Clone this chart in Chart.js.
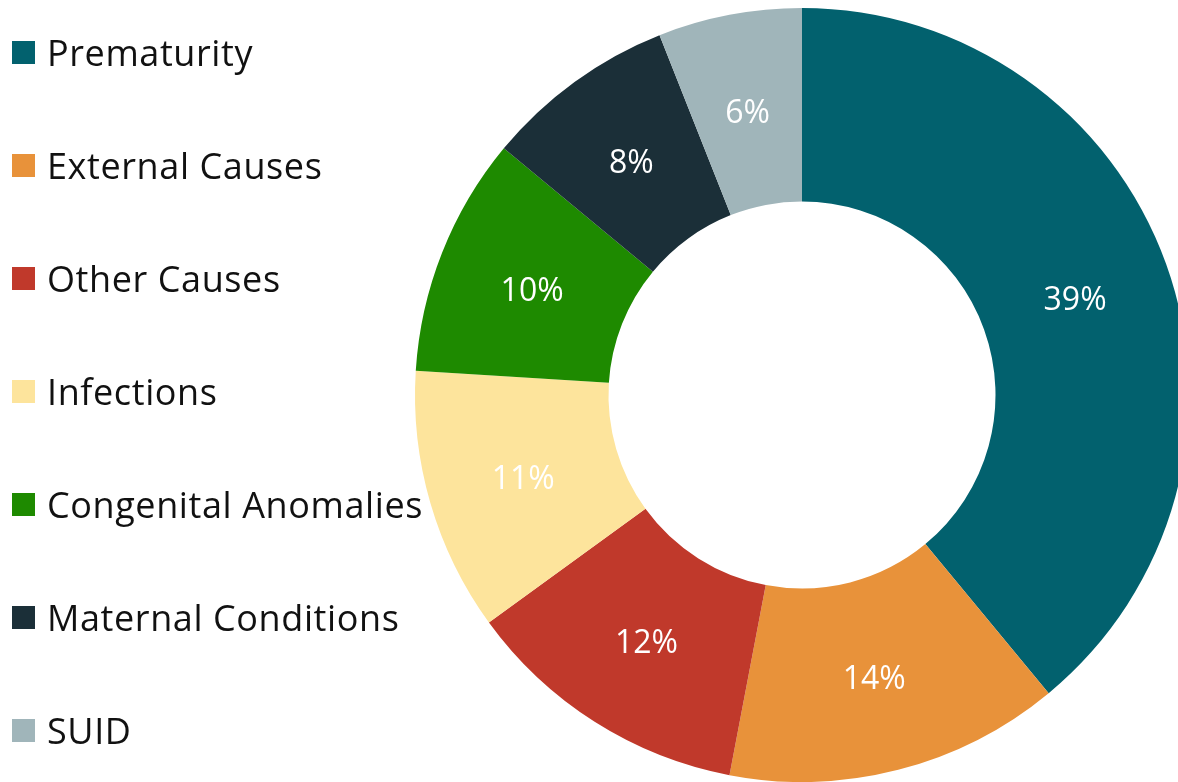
<!DOCTYPE html>
<html>
<head>
<meta charset="utf-8">
<script src="https://cdn.jsdelivr.net/npm/chart.js@4"></script>
<style>
  html, body { margin: 0; padding: 0; background: #fff; overflow: hidden; }
  #wrap { position: relative; width: 1178px; height: 782px; overflow: hidden; }
  #chart-box { position: absolute; left: 0; top: 0; width: 1189px; height: 782px; }
  #legend { position: absolute; left: 12px; top: 0; margin: 0; padding: 0; list-style: none;
    font-family: "Open Sans", "Noto Sans", sans-serif; font-size: 36px; letter-spacing: 0.6px; color: #111; }
  #legend li { position: absolute; left: 0; white-space: nowrap; display: flex; align-items: center; height: 40px; }
  #legend span.box { display: inline-block; width: 23px; height: 23px; margin-right: 12px; }
</style>
</head>
<body>
<div id="wrap">
  <div id="chart-box"><canvas id="donut"></canvas></div>
  <ul id="legend"></ul>
</div>
<script>
const causes = ["Prematurity", "External Causes", "Other Causes", "Infections",
  "Congenital Anomalies", "Maternal Conditions", "SUID"];
const shares = [39, 14, 12, 11, 10, 8, 6];
const sliceColors = ["#02616e", "#e8923a", "#c0392b", "#fde49c", "#1e8a00", "#1b2f38", "#a0b5ba"];

// percent labels in the middle of each slice
const sliceLabels = {
  id: "sliceLabels",
  afterDatasetsDraw(chart) {
    const ctx = chart.ctx;
    const meta = chart.getDatasetMeta(0);
    ctx.save();
    ctx.font = '32px "Open Sans", "Noto Sans", sans-serif';
    ctx.fillStyle = "#ffffff";
    ctx.textAlign = "center";
    ctx.textBaseline = "middle";
    meta.data.forEach((arc, i) => {
      const pos = arc.tooltipPosition();
      ctx.fillText(shares[i] + "%", pos.x, pos.y + 4);
    });
    ctx.restore();
  }
};

const donut = new Chart(document.getElementById("donut"), {
  type: "doughnut",
  data: {
    labels: causes,
    datasets: [{
      data: shares,
      backgroundColor: sliceColors,
      borderWidth: 0
    }]
  },
  options: {
    responsive: true,
    maintainAspectRatio: false,
    animation: false,
    cutout: "50%",
    layout: { padding: { left: 415, top: 8, bottom: 0, right: 0 } },
    plugins: {
      legend: { display: false },
      tooltip: { enabled: false }
    }
  },
  plugins: [sliceLabels]
});

// legend down the left side
const legend = document.getElementById("legend");
causes.forEach((name, i) => {
  const li = document.createElement("li");
  li.style.top = (32 + i * 113) + "px";
  li.innerHTML = `<span class="box" style="background:${sliceColors[i]}"></span>${name}`;
  legend.appendChild(li);
});
</script>
</body>
</html>
